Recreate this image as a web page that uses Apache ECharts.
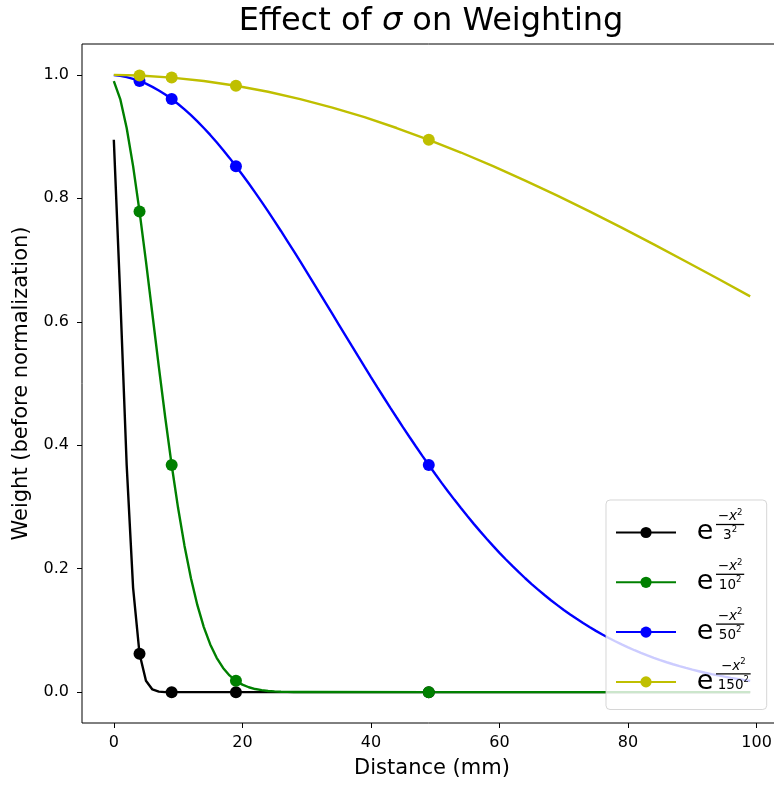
<!DOCTYPE html>
<html>
<head>
<meta charset="utf-8">
<script src="https://cdn.jsdelivr.net/npm/echarts@6/dist/echarts.min.js"></script>
<style>
html,body{margin:0;padding:0;background:#fff;}
#chart{width:774px;height:785px;}
</style>
</head>
<body>
<div id="chart"></div>
<script>
// ---- data ----
const MARK_X = [4, 9, 19, 49];
const X_TICKS = [0, 20, 40, 60, 80, 100];
const Y_TICKS = [0.0, 0.2, 0.4, 0.6, 0.8, 1.0];

const blackX = [0,1,2,3,4,5,6,7,8,9,19,49,99];
const blackY = [0.8948,0.6412,0.3679,0.1690,0.0622,0.0183,0.0043,0.0008,0.0001,0.0000,0,0,0];

const greenX = [0,1,2,3,4,5,6,7,8,9,10,11,12,13,14,15,16,17,18,19,20,21,22,23,24,25,26,27,28,29,30,49,99];
const greenY = [0.9900,0.9608,0.9139,0.8521,0.7788,0.6977,0.6126,0.5273,0.4449,0.3679,
  0.2982,0.2369,0.1845,0.1409,0.1054,0.0773,0.0556,0.0392,0.0271,0.0183,
  0.0122,0.0079,0.0050,0.0032,0.0019,0.0012,0.0007,0.0004,0.0002,0.0001,
  0.0001,0,0];

const blueX = [0,1,2,3,4,5,6,7,8,9,10,11,12,13,14,15,16,17,18,19,
  20,21,22,23,24,25,26,27,28,29,30,31,32,33,34,35,36,37,38,39,
  40,41,42,43,44,45,46,47,48,49,50,51,52,53,54,55,56,57,58,59,
  60,61,62,63,64,65,66,67,68,69,70,71,72,73,74,75,76,77,78,79,
  80,81,82,83,84,85,86,87,88,89,90,91,92,93,94,95,96,97,98,99];
const blueY = [0.9996,0.9984,0.9964,0.9936,0.9900,0.9857,0.9806,0.9747,0.9681,0.9608,
  0.9528,0.9440,0.9346,0.9246,0.9139,0.9027,0.8908,0.8784,0.8655,0.8521,
  0.8383,0.8240,0.8093,0.7942,0.7788,0.7631,0.7471,0.7308,0.7143,0.6977,
  0.6809,0.6639,0.6469,0.6298,0.6126,0.5955,0.5783,0.5612,0.5442,0.5273,
  0.5105,0.4938,0.4773,0.4610,0.4449,0.4290,0.4133,0.3979,0.3827,0.3679,
  0.3533,0.3390,0.3251,0.3115,0.2982,0.2852,0.2726,0.2604,0.2485,0.2369,
  0.2257,0.2149,0.2044,0.1943,0.1845,0.1751,0.1660,0.1573,0.1489,0.1409,
  0.1331,0.1257,0.1187,0.1119,0.1054,0.0992,0.0933,0.0877,0.0824,0.0773,
  0.0725,0.0679,0.0636,0.0595,0.0556,0.0519,0.0484,0.0452,0.0421,0.0392,
  0.0364,0.0339,0.0314,0.0292,0.0271,0.0251,0.0232,0.0215,0.0198,0.0183];

const yellowX = [0,4,9,14,19,24,29,34,39,44,49,54,59,64,69,74,79,84,89,94,99];
const yellowY = [1.0000,0.9989,0.9956,0.9900,0.9824,0.9726,0.9608,0.9470,0.9314,0.9139,
  0.8948,0.8742,0.8521,0.8288,0.8043,0.7788,0.7525,0.7254,0.6977,0.6696,0.6412];

const SERIES_NAMES = ['s3', 's10', 's50', 's150'];
const SERIES_COLORS = ['#000000', '#008000', '#0000ff', '#bfbf00'];
const LEGEND_SIGMA = ['3', '10', '50', '150'];

// ---- build ----
const FONT = 'DejaVu Sans';
function makeData(xs, ys) {
  return xs.map((x, i) => MARK_X.indexOf(x) >= 0
    ? { value: [x, ys[i]] }
    : { value: [x, ys[i]], symbol: 'none' });
}
const seriesXY = [[blackX, blackY], [greenX, greenY], [blueX, blueY], [yellowX, yellowY]];

// measure text for centring the fraction parts
const mctx = document.createElement('canvas').getContext('2d');
function tw(txt, size, style) {
  mctx.font = (style || 'normal') + ' ' + size + 'px "' + FONT + '"';
  return mctx.measureText(txt).width;
}
const F_MAIN = 13.5, F_SUP = 8.5, F_E = 27;
const L1 = 12.4, L2 = 3, L3 = 19.6, L4 = 8.8;
const FRAC_X = 35;

const rich = {
  lp: {width: 15.8, lineHeight: 1},
  e: {fontFamily: FONT, fontSize: F_E, width: 19.2, lineHeight: L3, padding: [0, 0, 7.2, 0], color: '#000'},
  m: {fontFamily: FONT, fontSize: F_MAIN, lineHeight: L1, color: '#000'},
  x: {fontFamily: FONT, fontSize: F_MAIN, fontStyle: 'italic', lineHeight: L1, color: '#000'},
  s: {fontFamily: FONT, fontSize: F_SUP, lineHeight: L1, padding: [0, 0, 8.4, 0], color: '#000'},
  d: {fontFamily: FONT, fontSize: F_MAIN, lineHeight: L3, color: '#000'},
  ds: {fontFamily: FONT, fontSize: F_SUP, lineHeight: L3, padding: [0, 0, 11.8, 0], color: '#000'},
  bp: {width: FRAC_X, lineHeight: 1},
  sp: {lineHeight: L4, fontSize: 6}
};
const legendText = {};
const numW = tw('−', F_MAIN) + tw('x', F_MAIN, 'italic') + tw('2', F_SUP);
SERIES_NAMES.forEach((n, i) => {
  const denW = tw(LEGEND_SIGMA[i], F_MAIN) + tw('2', F_SUP);
  const barW = Math.max(numW, denW) + 3.5;
  rich['np' + i] = {width: FRAC_X + (barW - numW) / 2, lineHeight: 1};
  rich['dp' + i] = {width: (barW - denW) / 2, lineHeight: 1};
  rich['bar' + i] = {width: barW, height: 1.3, backgroundColor: '#000', lineHeight: L2};
  legendText[n] =
    '{np' + i + '| }{m|−}{x|x}{s|2}\n' +
    '{bp| }{bar' + i + '| }\n' +
    '{lp| }{e|e}{dp' + i + '| }{d|' + LEGEND_SIGMA[i] + '}{ds|2}\n' +
    '{sp| }';
});

const chart = echarts.init(document.getElementById('chart'), null, {renderer: 'canvas'});
chart.setOption({
  animation: false,
  backgroundColor: '#ffffff',
  title: {
    text: '{n|Effect of }{i|σ}{n| on Weighting}',
    left: 431, top: 6, padding: 0, textAlign: 'center',
    textStyle: {
      fontFamily: FONT, fontSize: 32, fontWeight: 'normal', color: '#000',
      rich: {
        n: {fontFamily: FONT, fontSize: 32, fontWeight: 'normal', color: '#000'},
        i: {fontFamily: FONT, fontSize: 32, fontWeight: 'normal', fontStyle: 'italic', color: '#000'}
      }
    }
  },
  grid: {
    left: 82, top: 44, width: 700, height: 679,
    outerBoundsMode: 'none', containLabel: false,
    show: true, borderColor: '#000', borderWidth: 1, backgroundColor: 'transparent'
  },
  xAxis: {
    type: 'value', min: -4.95, max: 103.95,
    name: 'Distance (mm)', nameLocation: 'middle', nameGap: 35,
    nameTextStyle: {fontFamily: FONT, fontSize: 21, color: '#000'},
    axisLine: {show: false, onZero: false},
    axisTick: {show: true, length: 5, customValues: X_TICKS, lineStyle: {color: '#000', width: 1}},
    axisLabel: {customValues: X_TICKS, margin: 12, fontFamily: FONT, fontSize: 16, color: '#000'},
    splitLine: {show: false}
  },
  yAxis: {
    type: 'value', min: -0.05, max: 1.05,
    name: 'Weight (before normalization)', nameLocation: 'middle', nameGap: 49.5,
    nameTextStyle: {fontFamily: FONT, fontSize: 21, color: '#000'},
    axisLine: {show: false, onZero: false},
    axisTick: {show: true, length: 5, customValues: Y_TICKS, lineStyle: {color: '#000', width: 1}},
    axisLabel: {customValues: Y_TICKS, margin: 13, fontFamily: FONT, fontSize: 16, color: '#000',
      formatter: v => v.toFixed(1)},
    splitLine: {show: false}
  },
  legend: {
    orient: 'vertical', left: 606, top: 500,
    padding: [8.1, 16, 7.1, 9], itemGap: 4.9,
    itemWidth: 60, itemHeight: 14,
    backgroundColor: 'rgba(255,255,255,0.8)',
    borderColor: 'rgba(204,204,204,0.8)', borderWidth: 1, borderRadius: 4,
    data: SERIES_NAMES,
    formatter: name => legendText[name],
    textStyle: {fontFamily: FONT, color: '#000', rich: rich}
  },
  series: SERIES_NAMES.map((n, i) => ({
    name: n,
    type: 'line',
    data: makeData(seriesXY[i][0], seriesXY[i][1]),
    symbol: 'circle',
    symbolSize: 12,
    showSymbol: true,
    showAllSymbol: true,
    color: SERIES_COLORS[i],
    itemStyle: {color: SERIES_COLORS[i]},
    lineStyle: {color: SERIES_COLORS[i], width: 2.4},
    emphasis: {disabled: true},
    silent: true,
    clip: true
  }))
});
</script>
</body>
</html>
